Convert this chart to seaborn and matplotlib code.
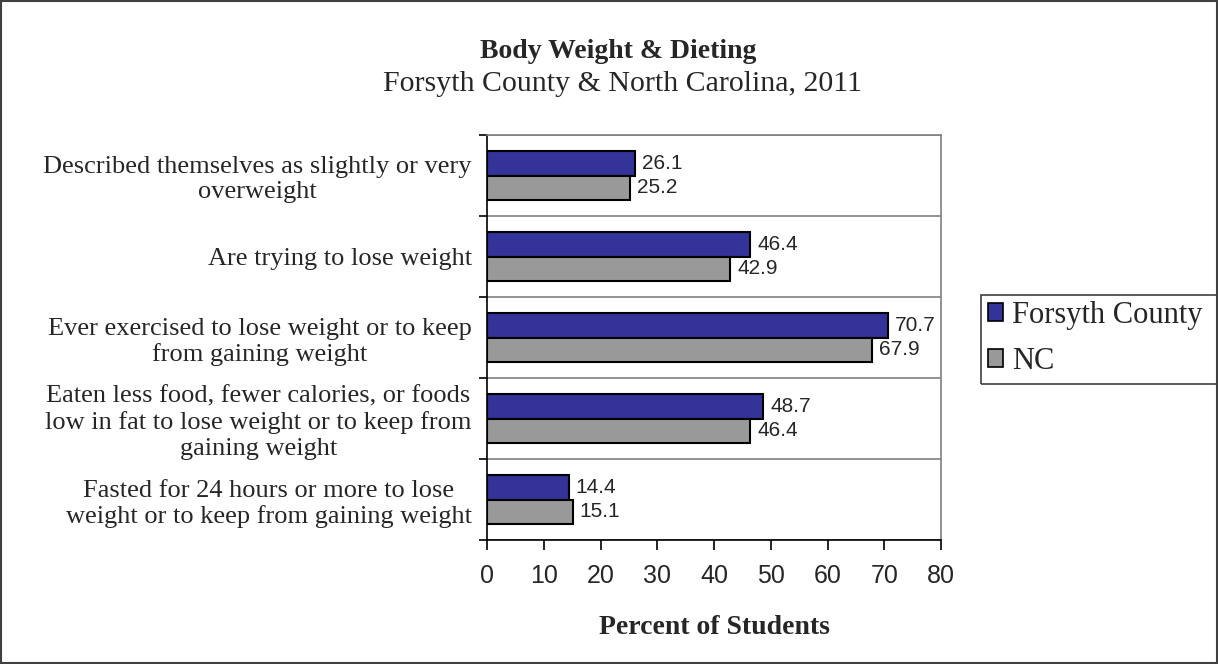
import pandas as pd
import matplotlib.pyplot as plt
import matplotlib.patches as mpatches
import seaborn as sns
import numpy as np

# Chart data
categories = [
    "Described themselves as slightly or very\noverweight",
    "Are trying to lose weight",
    "Ever exercised to lose weight or to keep\nfrom gaining weight",
    "Eaten less food, fewer calories, or foods\nlow in fat to lose weight or to keep from\ngaining weight",
    "Fasted for 24 hours or more to lose\nweight or to keep from gaining weight",
]
series_names = ["Forsyth County", "NC"]
forsyth = [26.1, 46.4, 70.7, 48.7, 14.4]
nc = [25.2, 42.9, 67.9, 46.4, 15.1]
x_ticks = [0, 10, 20, 30, 40, 50, 60, 70, 80]

df = pd.DataFrame({
    "Category": categories * 2,
    "Group": [series_names[0]] * len(categories) + [series_names[1]] * len(categories),
    "Percent": forsyth + nc,
})

sns.set_theme(style="white")
plt.rcParams['font.family'] = ['Liberation Serif', 'DejaVu Serif']

colors = {"Forsyth County": "#333399", "NC": "#999999"}

W, H = 1218, 664
fig = plt.figure(figsize=(W / 100, H / 100), dpi=100)
ax = fig.add_axes([487 / W, 1 - 540 / H, (941 - 487) / W, (540 - 135) / H])

sns.barplot(data=df, y="Category", x="Percent", hue="Group", order=categories,
            hue_order=series_names, palette=colors, orient="h", width=0.6,
            saturation=1, edgecolor="black", linewidth=1.5, legend=False, ax=ax)

# Value labels
for cont in ax.containers:
    ax.bar_label(cont, fmt="%.1f", padding=5, fontsize=15, family="Liberation Sans")

# Axes styling
ax.set_xlim(0, 80)
ax.set_ylim(len(categories) - 0.5, -0.5)
ax.set_xticks(x_ticks)
ax.set_xticklabels([str(v) for v in x_ticks], fontsize=18, family="Liberation Sans")
ax.tick_params(axis="x", direction="out", length=7, width=1.2, color="black", bottom=True, pad=10)
ax.tick_params(axis="y", which="major", length=0, pad=11, labelsize=19)
ax.set_yticks(np.arange(-0.5, len(categories), 1.0), minor=True)
ax.tick_params(axis="y", which="minor", direction="out", length=6, width=1.2, color="black", left=True)
ax.grid(True, axis="y", which="minor", color="#808080", linewidth=1.2)
ax.grid(False, axis="x")
for t in ax.get_yticklabels():
    t.set_multialignment("center")
ax.set_xlabel("")
ax.set_ylabel("")

for side in ["top", "right"]:
    ax.spines[side].set_color("#808080")
    ax.spines[side].set_linewidth(1.2)
for side in ["left", "bottom"]:
    ax.spines[side].set_color("black")
    ax.spines[side].set_linewidth(1.2)

# Titles
fig.text(618 / W, 1 - 52 / H, "Body Weight & Dieting", ha="center", va="center",
         fontsize=20, fontweight="bold")
fig.text(622 / W, 1 - 84 / H, "Forsyth County & North Carolina, 2011", ha="center",
         va="center", fontsize=21.5)
fig.text(714 / W, 1 - 628 / H, "Percent of Students", ha="center", va="center",
         fontsize=20, fontweight="bold")

# Legend (frame drawn separately; it runs past the right edge in the original)
handles = [mpatches.Patch(facecolor=colors[n], edgecolor="black", linewidth=1.2, label=n)
           for n in series_names]
leg = fig.legend(handles=handles, loc="upper left", bbox_to_anchor=(988 / W, 1 - 301 / H),
                 fontsize=22, frameon=False, handlelength=0.5, handleheight=0.5,
                 handletextpad=0.3, borderpad=0, labelspacing=0.55, borderaxespad=0)
fig.patches.append(mpatches.Rectangle((981 / W, 1 - 384 / H), 260 / W, 89 / H,
                                      transform=fig.transFigure, fill=False,
                                      edgecolor="#404040", linewidth=1.2, clip_on=True))

# Border around the whole figure
fig.patches.append(mpatches.Rectangle((0.001, 0.001), 0.998, 0.998, transform=fig.transFigure,
                                      fill=False, edgecolor="#404040", linewidth=1.5))

plt.savefig("out.png", dpi=100)
